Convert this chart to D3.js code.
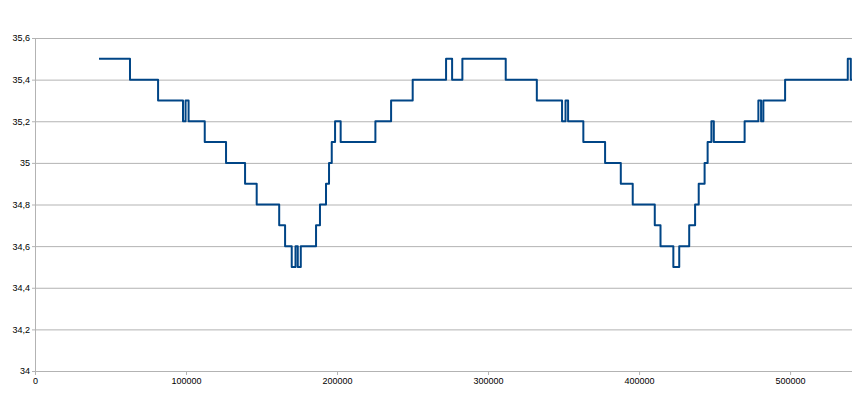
<!DOCTYPE html>
<html>
<head>
<meta charset="utf-8">
<script src="https://cdn.jsdelivr.net/npm/d3@7"></script>
<style>
  html, body { margin: 0; padding: 0; background: #fff; }
  svg { display: block; }
</style>
</head>
<body>
<svg id="chart" width="852" height="400"></svg>
<script>
// Data: time at which each level starts, and the level value
const times = [42400, 62900, 81500, 98000, 99700, 101700, 112400, 126500, 139100, 146800,
  161700, 165600, 170000, 172500, 174000, 176000, 186100, 188700, 192700, 194700,
  196500, 198700, 202400, 225400, 235800, 250100, 272200, 276200, 283000, 311700,
  332300, 349000, 351300, 353000, 363100, 377500, 387900, 395800, 410400, 414200,
  422700, 426600, 433200, 437100, 439500, 443400, 445400, 447900, 449500, 469900,
  479000, 480800, 482300, 496700, 538200, 540200, 541000];
const values = [35.5, 35.4, 35.3, 35.2, 35.3, 35.2, 35.1, 35.0, 34.9, 34.8,
  34.7, 34.6, 34.5, 34.6, 34.5, 34.6, 34.7, 34.8, 34.9, 35.0,
  35.1, 35.2, 35.1, 35.2, 35.3, 35.4, 35.5, 35.4, 35.5, 35.4,
  35.3, 35.2, 35.3, 35.2, 35.1, 35.0, 34.9, 34.8, 34.7, 34.6,
  34.5, 34.6, 34.7, 34.8, 34.9, 35.0, 35.1, 35.2, 35.1, 35.2,
  35.3, 35.2, 35.3, 35.4, 35.5, 35.4, 35.4];
const xTicks = [0, 100000, 200000, 300000, 400000, 500000];
const yTicks = [34, 34.2, 34.4, 34.6, 34.8, 35, 35.2, 35.4, 35.6];

const svg = d3.select("#chart");
const x = d3.scaleLinear().domain([0, 541000]).range([35, 852]);
const y = d3.scaleLinear().domain([34, 35.6]).range([371, 38]);
const fmtY = v => d3.format(".1~f")(v).replace(".", ",");
const gridColor = "#b3b3b3";
const font = "'Liberation Sans', Arial, sans-serif";

// Y grid + axis
const gy = svg.append("g").attr("transform", "translate(35,0)")
  .call(d3.axisLeft(y).tickValues(yTicks).tickSize(3).tickPadding(2).tickFormat(fmtY));
gy.select(".domain").attr("stroke", gridColor);
gy.selectAll(".tick line").attr("stroke", gridColor);
gy.selectAll(".tick text").attr("fill", "#000").style("font-family", font).style("font-size", "9px");
gy.selectAll(".tick").append("line")
  .attr("x1", 0).attr("x2", 852 - 35).attr("stroke", gridColor);

// X axis
const gx = svg.append("g").attr("transform", "translate(0,371)")
  .call(d3.axisBottom(x).tickValues(xTicks).tickSize(4).tickPadding(3).tickFormat(d3.format("d")));
gx.select(".domain").attr("stroke", gridColor);
gx.selectAll(".tick line").attr("stroke", gridColor);
gx.selectAll(".tick text").attr("fill", "#000").style("font-family", font).style("font-size", "9px");

// Line
const pts = times.map((t, i) => [t, values[i]]);
const line = d3.line().x(d => x(d[0])).y(d => y(d[1])).curve(d3.curveStepAfter);
svg.append("path").datum(pts)
  .attr("d", line)
  .attr("fill", "none")
  .attr("stroke", "#004586")
  .attr("stroke-width", 2)
  .attr("stroke-linejoin", "round");
</script>
</body>
</html>
